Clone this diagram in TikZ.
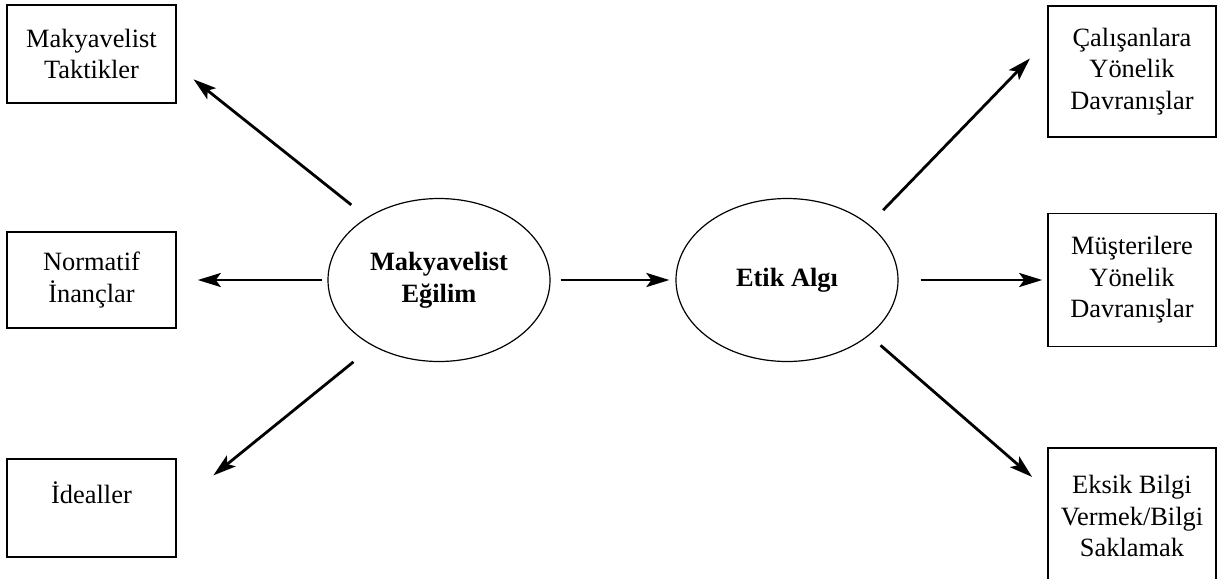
\documentclass[tikz,border=0pt]{standalone}
\usepackage{fontspec}
\setmainfont{Liberation Serif}
\usetikzlibrary{shapes.geometric,arrows.meta}

\tikzset{
  kutu/.style={draw, line width=0.8pt, rectangle, inner sep=0pt, align=center,
    minimum width=84.5pt, minimum height=49pt, font=\fontsize{13.2}{15.8}\selectfont},
  elips/.style={draw, line width=0.6pt, ellipse, inner sep=0pt, align=center,
    minimum width=111pt, minimum height=81.5pt, font=\fontsize{13.2}{15.8}\selectfont\bfseries},
  ok/.style={line width=1.4pt, -{Stealth[length=11.5pt, width=7pt, inset=2.5pt]}}
}

\begin{document}
\begin{tikzpicture}[x=0.5pt, y=-0.5pt]
            \useasboundingbox (0,0) rectangle (1217,579);
            \node[kutu] (mt) at (91.5,54) {Makyavelist\\Taktikler};
            \node[kutu, minimum height=48pt] (ni) at (91.5,280) {Normatif\\İnançlar};
            \node[kutu] (id) at (91.5,508) {İdealler\\\mbox{}};
            \node[elips] (me) at (439,280) {Makyavelist\\Eğilim};
            \node[elips] (ea) at (787,280) {Etik Algı};
            \node[kutu, minimum width=84pt, minimum height=65.5pt] (cal) at (1132,71.5) {Çalışanlara\\Yönelik\\Davranışlar};
            \node[kutu, minimum width=84pt, minimum height=66.5pt] (mus) at (1132,280) {Müşterilere\\Yönelik\\Davranışlar};
            \node[kutu, minimum width=84pt, minimum height=68pt] (eks) at (1132,516) {Eksik Bilgi\\Vermek/Bilgi\\Saklamak};

            \draw[ok, shorten <=10pt, shorten >=10.7pt] (me.139) -- (mt.-8);
            \draw[ok, shorten <=2.5pt, shorten >=10.5pt] (me.west) -- (ni.east);
            \draw[ok, shorten <=12.5pt, shorten >=23.5pt] (me.225) -- (id.2);
            \draw[ok, shorten <=5pt, shorten >=3pt] (me.east) -- (ea.west);
            \draw[ok, shorten <=10pt, shorten >=12.4pt] (ea.34) -- (cal.160);
            \draw[ok, shorten <=11pt, shorten >=2.5pt] (ea.east) -- (mus.west);
            \draw[ok, shorten <=7.5pt, shorten >=10pt] (ea.-34) -- (eks.163);
\end{tikzpicture}
\end{document}
